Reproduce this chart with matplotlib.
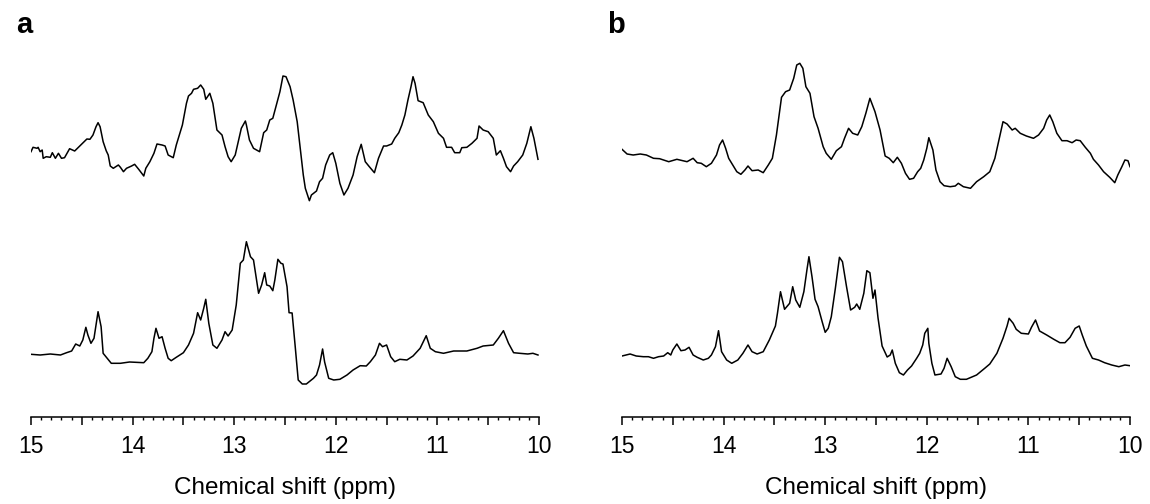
import numpy as np
import matplotlib
matplotlib.use("Agg")
import matplotlib.pyplot as plt
from matplotlib.ticker import MultipleLocator, FuncFormatter

plt.rcParams['font.family'] = ['Liberation Sans', 'DejaVu Sans']

# ---------------- Panel a ----------------
a_upper_ppm = [15.00, 14.98, 14.94, 14.93, 14.91, 14.89, 14.88, 14.85, 14.81, 14.79,
               14.76, 14.73, 14.70, 14.67, 14.62, 14.57, 14.50, 14.45, 14.42, 14.39,
               14.36, 14.34, 14.32, 14.29, 14.26, 14.24, 14.22, 14.19, 14.14, 14.12,
               14.09, 14.06, 14.01, 13.98, 13.94, 13.89, 13.87, 13.83, 13.79, 13.76,
               13.71, 13.68, 13.65, 13.60, 13.57, 13.54, 13.51, 13.47, 13.45, 13.42,
               13.40, 13.36, 13.33, 13.30, 13.28, 13.24, 13.21, 13.17, 13.12, 13.09,
               13.06, 13.03, 12.99, 12.96, 12.93, 12.89, 12.88, 12.85, 12.81, 12.78,
               12.75, 12.71, 12.68, 12.65, 12.62, 12.58, 12.55, 12.52, 12.49, 12.45,
               12.42, 12.38, 12.35, 12.32, 12.30, 12.26, 12.24, 12.19, 12.16, 12.13,
               12.10, 12.06, 12.03, 12.00, 11.96, 11.92, 11.88, 11.83, 11.79, 11.75,
               11.71, 11.67, 11.62, 11.58, 11.53, 11.50, 11.45, 11.42, 11.38, 11.35,
               11.32, 11.29, 11.26, 11.24, 11.22, 11.19, 11.14, 11.09, 11.04, 10.99,
               10.94, 10.91, 10.86, 10.83, 10.78, 10.76, 10.71, 10.66, 10.61, 10.59,
               10.55, 10.50, 10.45, 10.42, 10.38, 10.35, 10.32, 10.28, 10.25, 10.21,
               10.16, 10.12, 10.08, 10.05, 10.01]
a_upper_int = [48.3, 52.7, 51.7, 52.7, 48.3, 50.0, 41.7, 43.3, 42.7, 47.3,
               41.7, 46.7, 41.7, 42.3, 51.3, 49.0, 56.0, 61.0, 60.7, 65.0,
               73.3, 77.3, 73.3, 58.3, 49.3, 45.0, 34.0, 31.7, 35.0, 32.7,
               28.3, 31.7, 34.0, 35.7, 30.7, 24.0, 31.7, 38.3, 46.7, 56.0,
               55.0, 54.0, 45.0, 42.3, 55.0, 65.0, 75.0, 96.7, 104.0, 106.7,
               110.7, 111.7, 115.0, 110.7, 100.7, 106.7, 96.7, 70.0, 65.0, 53.3,
               43.3, 38.3, 45.0, 58.3, 71.7, 79.0, 75.0, 60.0, 51.7, 50.0,
               48.3, 67.3, 70.0, 80.0, 81.7, 96.7, 108.3, 124.0, 123.3, 113.3,
               100.0, 78.3, 51.7, 25.0, 11.7, -0.7, 5.0, 9.0, 18.3, 21.7,
               35.0, 45.0, 47.3, 36.7, 16.7, 5.0, 11.7, 25.0, 43.3, 55.7,
               38.3, 33.3, 27.3, 41.7, 54.0, 54.0, 56.0, 61.7, 67.3, 75.0,
               85.0, 100.0, 113.3, 123.3, 116.7, 99.3, 97.3, 85.0, 78.3, 66.7,
               61.7, 52.7, 52.7, 47.3, 47.3, 52.3, 52.7, 56.7, 61.7, 74.0,
               70.0, 68.3, 61.7, 45.0, 49.3, 41.7, 33.3, 28.3, 34.0, 38.3,
               45.0, 56.7, 73.3, 61.7, 40.7]

a_lower_ppm = [15.00, 14.91, 14.81, 14.71, 14.65, 14.60, 14.56, 14.52, 14.49, 14.46,
               14.44, 14.41, 14.38, 14.34, 14.31, 14.29, 14.25, 14.21, 14.12, 14.03,
               13.89, 13.85, 13.81, 13.79, 13.77, 13.74, 13.71, 13.68, 13.65, 13.62,
               13.57, 13.50, 13.45, 13.40, 13.36, 13.33, 13.30, 13.28, 13.25, 13.21,
               13.17, 13.12, 13.09, 13.06, 13.02, 12.98, 12.94, 12.91, 12.88, 12.84,
               12.81, 12.76, 12.73, 12.70, 12.68, 12.65, 12.62, 12.60, 12.57, 12.54,
               12.52, 12.48, 12.46, 12.43, 12.40, 12.37, 12.33, 12.29, 12.22, 12.19,
               12.16, 12.13, 12.11, 12.07, 12.02, 11.96, 11.89, 11.83, 11.76, 11.70,
               11.66, 11.61, 11.57, 11.54, 11.50, 11.46, 11.42, 11.37, 11.30, 11.24,
               11.17, 11.11, 11.07, 11.02, 10.94, 10.84, 10.71, 10.61, 10.55, 10.45,
               10.40, 10.35, 10.30, 10.25, 10.19, 10.11, 10.06, 10.01]
a_lower_int = [32.7, 32.0, 33.0, 32.0, 34.3, 36.0, 43.0, 41.0, 47.0, 59.7,
               52.0, 43.7, 48.7, 75.3, 60.3, 33.7, 28.7, 23.7, 23.7, 25.0,
               24.3, 28.7, 35.3, 48.7, 58.7, 48.7, 50.3, 38.7, 28.7, 26.3,
               29.7, 34.3, 42.0, 53.7, 74.3, 67.0, 78.7, 87.7, 63.7, 42.0,
               38.7, 47.0, 55.3, 51.0, 57.0, 82.0, 123.7, 127.0, 145.3, 130.3,
               127.0, 93.7, 102.0, 114.3, 102.0, 101.0, 96.3, 107.0, 127.7, 123.7,
               123.0, 100.3, 74.3, 74.0, 41.0, 7.0, 3.0, 3.0, 8.7, 12.0,
               22.0, 38.0, 25.0, 8.7, 7.0, 7.7, 12.0, 17.0, 21.3, 21.0,
               25.3, 32.0, 43.7, 40.3, 42.0, 30.3, 25.3, 27.7, 27.0, 31.0,
               38.7, 51.3, 38.7, 35.3, 33.7, 36.0, 36.0, 38.7, 41.0, 42.0,
               48.7, 56.3, 43.7, 34.3, 33.7, 33.0, 33.7, 32.0]

# ---------------- Panel b ----------------
b_upper_ppm = [15.00, 14.95, 14.89, 14.82, 14.76, 14.69, 14.63, 14.54, 14.46, 14.36,
               14.30, 14.26, 14.22, 14.17, 14.12, 14.07, 14.04, 14.01, 13.98, 13.95,
               13.91, 13.87, 13.83, 13.79, 13.76, 13.72, 13.66, 13.61, 13.56, 13.52,
               13.48, 13.43, 13.39, 13.35, 13.31, 13.28, 13.25, 13.22, 13.19, 13.15,
               13.11, 13.07, 13.02, 12.99, 12.94, 12.89, 12.84, 12.81, 12.77, 12.73,
               12.68, 12.64, 12.60, 12.56, 12.51, 12.46, 12.41, 12.37, 12.33, 12.29,
               12.25, 12.21, 12.17, 12.13, 12.09, 12.06, 12.03, 12.00, 11.98, 11.94,
               11.91, 11.87, 11.83, 11.77, 11.72, 11.69, 11.64, 11.57, 11.51, 11.44,
               11.38, 11.33, 11.29, 11.25, 11.21, 11.16, 11.13, 11.08, 11.02, 10.95,
               10.90, 10.85, 10.82, 10.79, 10.76, 10.72, 10.67, 10.62, 10.57, 10.53,
               10.49, 10.44, 10.39, 10.36, 10.31, 10.26, 10.20, 10.15, 10.12, 10.08,
               10.05, 10.02, 10.00]
b_upper_int = [50.7, 46.0, 45.0, 46.0, 45.0, 41.7, 41.3, 38.3, 40.7, 38.3,
               41.7, 37.3, 36.7, 33.3, 36.7, 45.0, 55.0, 60.0, 51.7, 41.7,
               35.0, 28.3, 25.7, 30.0, 34.0, 29.3, 30.0, 27.3, 35.0, 41.7,
               65.0, 102.7, 108.3, 110.0, 121.7, 135.0, 136.7, 131.7, 113.3, 106.7,
               83.3, 71.7, 53.3, 46.7, 40.7, 49.3, 53.3, 61.7, 71.7, 66.7,
               65.0, 73.3, 86.7, 101.7, 88.3, 70.0, 44.0, 41.7, 37.3, 42.7,
               36.7, 26.7, 20.7, 21.7, 28.3, 31.7, 40.0, 51.7, 62.3, 50.0,
               30.0, 18.3, 14.3, 13.3, 14.0, 16.7, 13.3, 11.7, 18.3, 23.3,
               28.3, 41.7, 60.0, 78.3, 76.0, 70.0, 71.7, 66.7, 64.0, 61.7,
               65.0, 71.7, 80.0, 85.0, 78.3, 66.7, 59.3, 59.3, 57.3, 60.0,
               59.3, 52.7, 46.7, 40.7, 35.0, 28.3, 22.7, 17.3, 25.0, 33.3,
               40.0, 39.3, 33.3]

b_lower_ppm = [15.00, 14.92, 14.86, 14.79, 14.74, 14.69, 14.64, 14.59, 14.55, 14.52,
               14.50, 14.46, 14.42, 14.38, 14.34, 14.30, 14.26, 14.20, 14.15, 14.12,
               14.08, 14.05, 14.02, 13.97, 13.92, 13.86, 13.81, 13.76, 13.72, 13.67,
               13.61, 13.55, 13.49, 13.47, 13.44, 13.40, 13.35, 13.32, 13.29, 13.25,
               13.21, 13.18, 13.16, 13.13, 13.10, 13.07, 13.03, 13.00, 12.97, 12.94,
               12.90, 12.86, 12.83, 12.79, 12.75, 12.71, 12.69, 12.66, 12.62, 12.59,
               12.56, 12.53, 12.51, 12.48, 12.44, 12.39, 12.36, 12.34, 12.31, 12.27,
               12.23, 12.19, 12.15, 12.10, 12.07, 12.04, 12.02, 11.99, 11.98, 11.95,
               11.92, 11.86, 11.83, 11.80, 11.76, 11.72, 11.67, 11.61, 11.51, 11.43,
               11.38, 11.31, 11.25, 11.21, 11.19, 11.15, 11.12, 11.07, 11.00, 10.97,
               10.93, 10.89, 10.82, 10.75, 10.69, 10.64, 10.59, 10.54, 10.50, 10.47,
               10.43, 10.37, 10.31, 10.25, 10.18, 10.11, 10.05, 10.00]
b_lower_int = [31.0, 33.0, 31.0, 30.3, 30.3, 28.7, 30.3, 31.0, 34.3, 32.0,
               37.0, 43.0, 36.3, 37.0, 39.7, 32.0, 29.7, 27.0, 28.7, 32.0,
               40.3, 56.3, 35.3, 27.0, 23.7, 27.0, 33.7, 42.0, 35.3, 33.0,
               35.3, 47.0, 61.0, 73.7, 95.3, 77.7, 83.7, 100.3, 87.0, 79.7,
               95.3, 117.0, 130.3, 110.3, 87.7, 80.3, 65.3, 54.7, 58.7, 70.3,
               98.7, 129.7, 125.3, 100.3, 77.0, 79.7, 83.0, 77.7, 93.7, 116.3,
               114.3, 88.7, 97.0, 69.0, 41.0, 30.0, 32.0, 37.0, 23.7, 14.3,
               12.0, 17.0, 21.0, 28.7, 33.7, 42.0, 53.7, 58.7, 43.7, 23.7,
               12.0, 13.0, 18.7, 28.7, 20.3, 10.3, 7.7, 7.7, 12.0, 18.7,
               23.0, 33.7, 48.7, 61.0, 68.7, 63.7, 57.7, 53.7, 53.0, 59.7,
               67.0, 56.0, 52.0, 47.7, 44.3, 44.3, 49.7, 58.7, 61.0, 52.0,
               41.0, 28.7, 27.0, 24.3, 22.0, 20.3, 22.0, 21.3]

panel_letters = ["a", "b"]
x_label = "Chemical shift (ppm)"
upper_offset = 217
lower_offset = 30

fig = plt.figure(figsize=(11.5, 5.04), dpi=100)
W, H = 1150, 504
axes_specs = [(31, 539), (622, 1130)]
data = [
    (a_upper_ppm, a_upper_int, a_lower_ppm, a_lower_int),
    (b_upper_ppm, b_upper_int, b_lower_ppm, b_lower_int),
]
letter_x = [16, 607]

for i, ((x0, x1), (up_x, up_y, lo_x, lo_y)) in enumerate(zip(axes_specs, data)):
    ax = fig.add_axes([x0 / W, 1 - 417 / H, (x1 - x0) / W, (417 - 55) / H])
    ax.plot(up_x, np.array(up_y) + upper_offset, color='black', lw=1.1,
            solid_joinstyle='round')
    ax.plot(lo_x, np.array(lo_y) + lower_offset, color='black', lw=1.1,
            solid_joinstyle='round')
    ax.set_xlim(15, 10)
    ax.set_ylim(0, 362)
    for s in ['top', 'right', 'left']:
        ax.spines[s].set_visible(False)
    ax.spines['bottom'].set_linewidth(1.1)
    ax.set_yticks([])
    ax.xaxis.set_major_locator(MultipleLocator(0.5))
    ax.xaxis.set_minor_locator(MultipleLocator(0.1))
    ax.xaxis.set_major_formatter(FuncFormatter(
        lambda v, p: f"{int(round(v))}" if abs(v - round(v)) < 1e-6 else ""))
    ax.tick_params(axis='x', which='major', length=6, width=1.1, labelsize=16.5, pad=7)
    ax.tick_params(axis='x', which='minor', length=2.5, width=1.0)
    ax.set_xlabel(x_label, fontsize=17.5, labelpad=13.5)
    fig.text(letter_x[i] / W, 1 - 25 / H, panel_letters[i], fontsize=21,
             fontweight='bold', ha='left', va='center')

fig.savefig("out.png", dpi=100)
